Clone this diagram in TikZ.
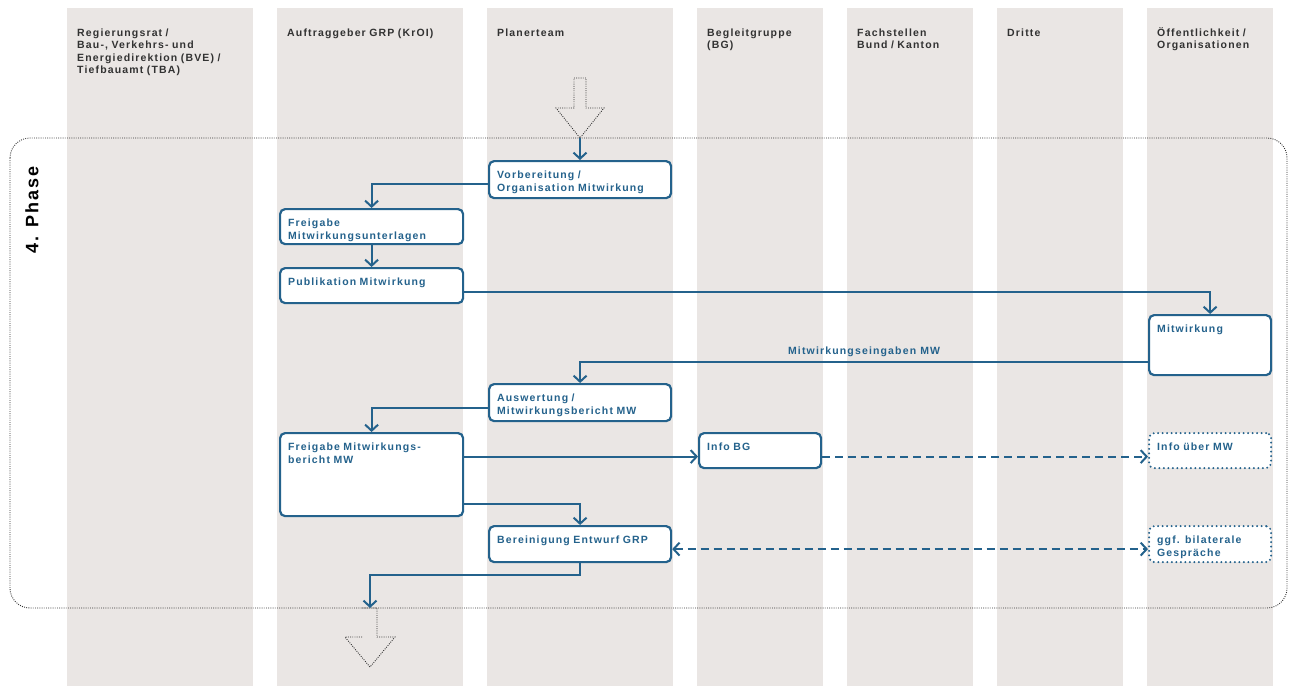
\documentclass[tikz,border=0pt]{standalone}
\usepackage{fontspec}
\setmainfont{Liberation Sans}
\newfontfamily\mwfont[LetterSpace=11]{Liberation Sans}
\definecolor{mwblue}{RGB}{36, 98, 140}
\definecolor{lanegrey}{RGB}{234, 230, 228}
\definecolor{headgrey}{RGB}{50, 50, 50}
\usetikzlibrary{arrows.meta, calc}

\tikzset{
  task/.style={draw=mwblue, line width=2.2pt, rounded corners=5pt, fill=white,
    anchor=north west, align=left, inner xsep=8pt, inner ysep=7pt, text height=10pt,
    text=mwblue, font=\mwfont\bfseries\fontsize{10.5}{13}\selectfont},
  maybe/.style={task, dash pattern=on 0pt off 4.5pt, line cap=round},
  head/.style={anchor=north west, align=left, inner sep=0pt, text height=8pt, text width=170pt,
    text=headgrey, font=\mwfont\bfseries\fontsize{10.5}{12.5}\selectfont},
  flow/.style={draw=mwblue, line width=2pt, -{Straight Barb[length=6pt,width=13pt]}},
  optflow/.style={flow, dash pattern=on 8pt off 5pt},
  phase/.style={draw=headgrey, line width=0.9pt, dash pattern=on 0.9pt off 1.3pt},
}

\begin{document}
\begin{tikzpicture}[x=1pt, y=-1pt]
  \useasboundingbox (0,0) rectangle (1289,686);

  % lanes
  \foreach \x/\w in {67/186, 277/186, 487/186, 697/126, 847/126, 997/126, 1147/126}
    \fill[lanegrey] (\x,8) rectangle ++(\w,678);

  \node[head] (regrat) at (77,28) {Regierungsrat /\\Bau-, Verkehrs- und\\Energiedirektion (BVE) /\\Tiefbauamt (TBA)};
  \node[head] (auftrag) at (287,28) {Auftraggeber GRP (KrOI)};
  \node[head] (planer) at (497,28) {Planerteam};
  \node[head, text width=115pt] (begleit) at (707,28) {Begleitgruppe\\(BG)};
  \node[head, text width=115pt] (fachst) at (857,28) {Fachstellen\\Bund / Kanton};
  \node[head, text width=115pt] (dritte) at (1007,28) {Dritte};
  \node[head, text width=115pt] (oeff) at (1157,28) {Öffentlichkeit /\\Organisationen};

  % phase frame
  \draw[phase, rounded corners=20pt] (10,138) rectangle (1287,608);
  \node[rotate=90, text=black, font=\mwfont\bfseries\fontsize{18}{20}\selectfont] (phasename) at (32,210) {4. Phase};

  \draw[phase] (574,78) -- (586,78) -- (586,108) -- (604,108) -- (580,138) -- (556,108) -- (574,108) -- cycle;
  \draw[phase] (362,608) -- (377,608) -- (377,637) -- (395,637) -- (370,667) -- (345,637) -- (362,637);
  \coordinate (start) at (580,138);
  \coordinate (ende) at (370,608);

  % tasks
  \node[task, text width=166pt, text depth=13pt] (vorb) at (488,160) {Vorbereitung /\\Organisation Mitwirkung};
  \node[task, text width=167pt, text depth=11pt] (freig) at (279,208) {Freigabe\\Mitwirkungsunterlagen};
  \node[task, text width=167pt, text depth=11pt] (publ) at (279,267) {Publikation Mitwirkung};
  \node[task, text width=106pt, text depth=36pt] (mitw) at (1148,314) {Mitwirkung};
  \node[task, text width=166pt, text depth=13pt] (ausw) at (488,383) {Auswertung /\\Mitwirkungsbericht MW};
  \node[task, text width=167pt, text depth=59pt] (fmb) at (279,432) {Freigabe Mitwirkungs-\\bericht MW};
  \node[task, text width=106pt, text depth=11pt] (infobg) at (698,432) {Info BG};
  \node[maybe, text width=106pt, text depth=11pt] (infomw) at (1148,432) {Info über MW};
  \node[task, text width=166pt, text depth=12pt] (bereinig) at (488,525) {Bereinigung Entwurf GRP};
  \node[maybe, text width=106pt, text depth=12pt] (gespr) at (1148,525) {ggf. bilaterale\\Gespräche};

  % connectors
  \draw[flow] (start) -- (start |- vorb.north);
  \draw[flow] ([yshift=-4pt]vorb.west) -| (freig.north);
  \draw[flow] (freig) -- (publ);
  \draw[flow] ([yshift=-6pt]publ.east) -| (mitw.north);
  \draw[flow] ([yshift=-17pt]mitw.west) -| (ausw.north)
    node[pos=0.25, above=1pt, text=mwblue, font=\mwfont\bfseries\fontsize{10.5}{12}\selectfont] (eingaben) {Mitwirkungseingaben MW};
  \draw[flow] ([yshift=-5pt]ausw.west) -| (fmb.north);
  \draw[flow] ([yshift=-6pt]fmb.east |- infobg.west) -- ([yshift=-6pt]infobg.west);
  \draw[optflow] ([yshift=-6pt]infobg.east) -- ([yshift=-6pt]infomw.west);
  \draw[flow] ([yshift=13pt]fmb.south east) -| (bereinig.north);
  \draw[optflow, {Straight Barb[length=6pt,width=13pt]}-{Straight Barb[length=6pt,width=13pt]}] ([yshift=-5pt]bereinig.east) -- ([yshift=-5pt]gespr.west);
  \draw[flow] (bereinig.south) -- ++(0,12) -| (ende);
\end{tikzpicture}
\end{document}
